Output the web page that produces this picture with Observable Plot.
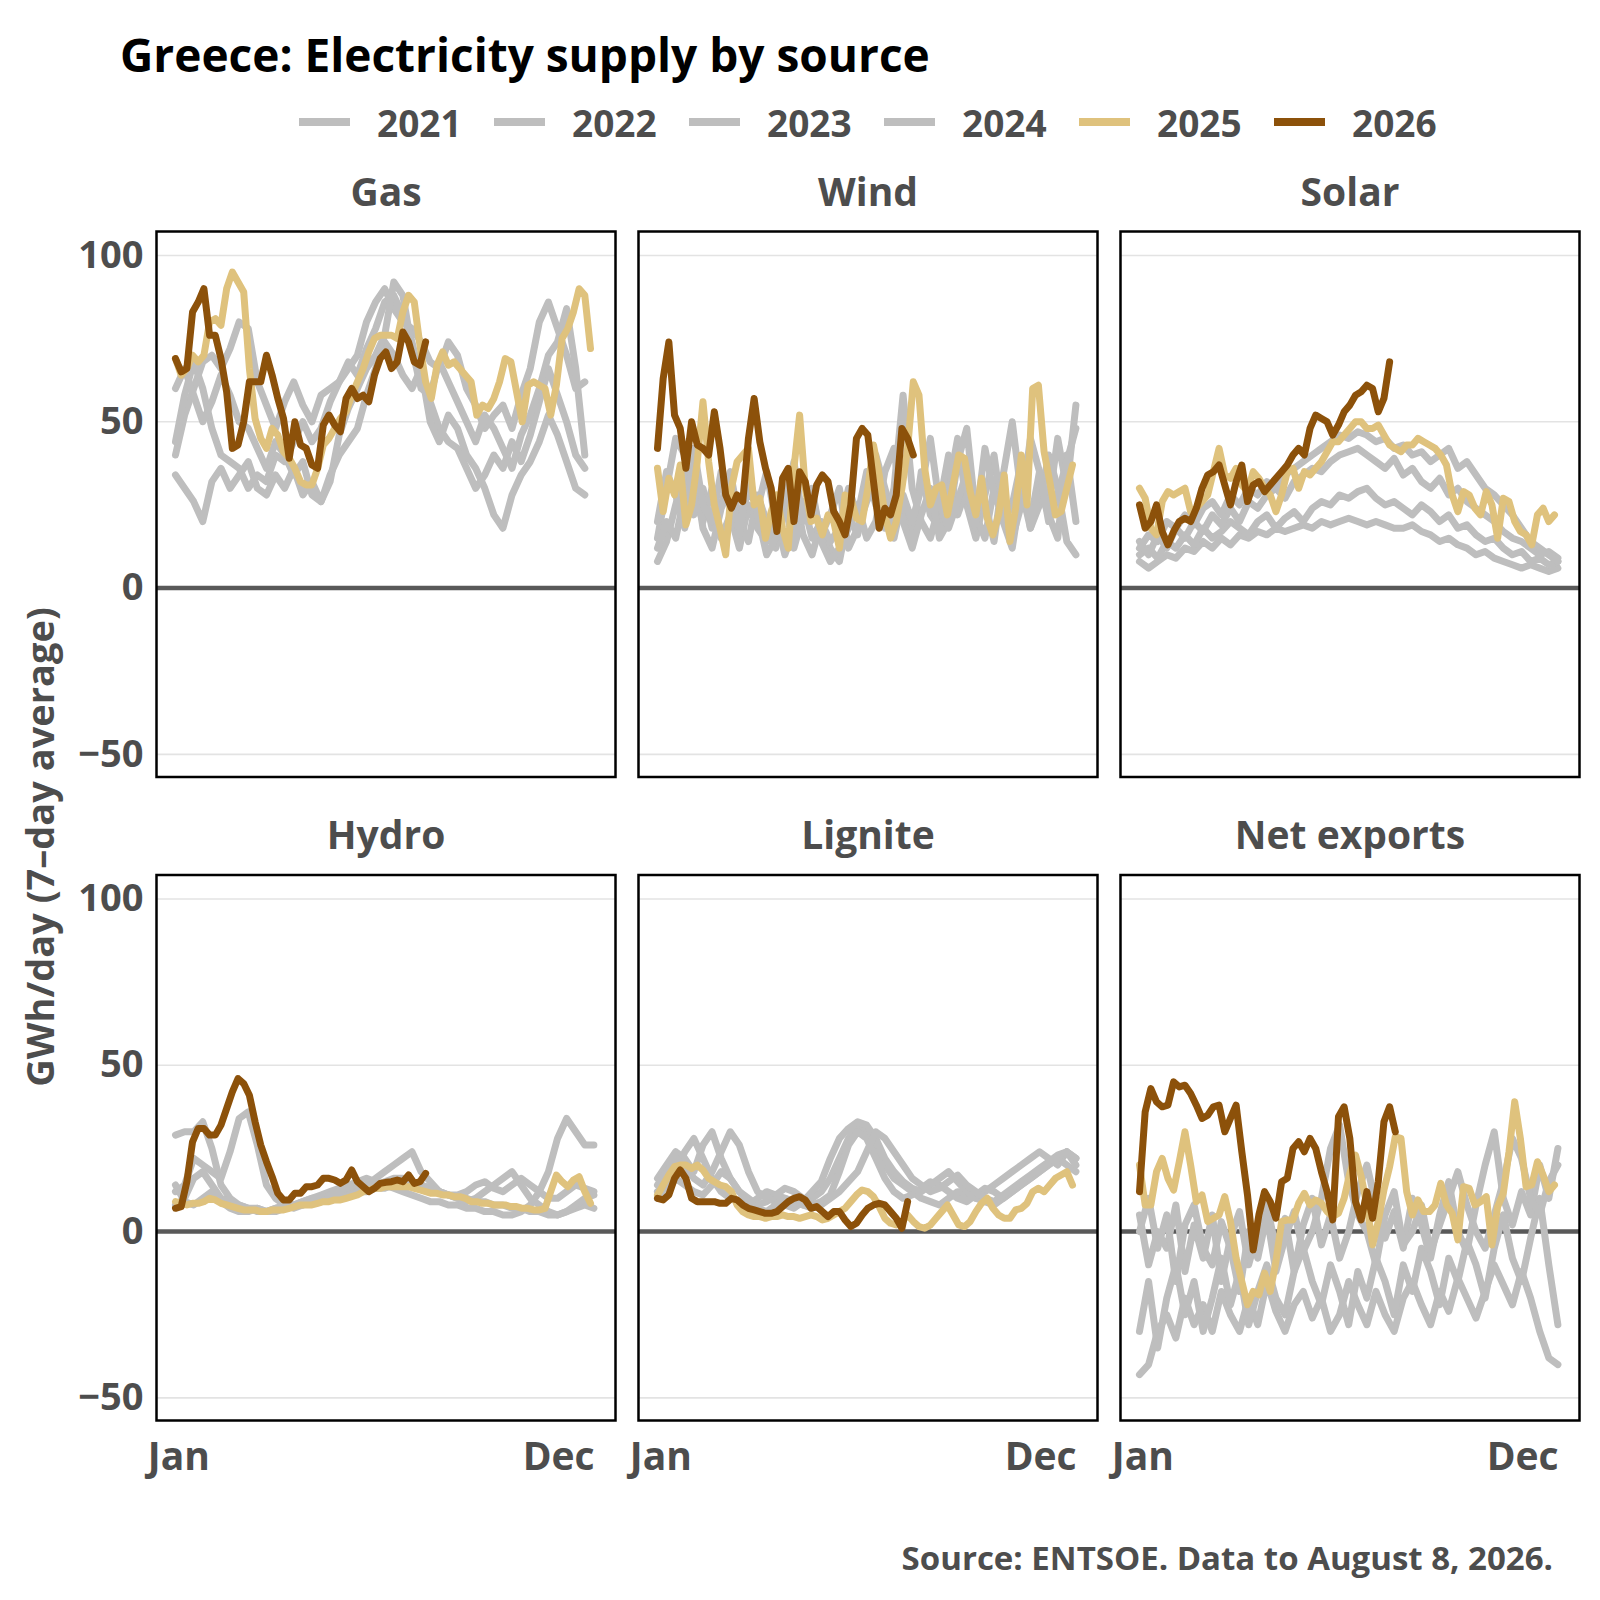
<!DOCTYPE html>
<html>
<head>
<meta charset="utf-8">
<script src="https://cdn.jsdelivr.net/npm/d3@7"></script>
<script src="https://cdn.jsdelivr.net/npm/@observablehq/plot@0.6"></script>
<style>
  html, body { margin: 0; padding: 0; background: #fff; }
  #wrap { position: relative; width: 1600px; height: 1600px; font-family: "Open Sans", "Noto Sans", sans-serif; font-weight: 700; color: #4d4d4d; }
  #title { position: absolute; left: 120px; top: 31px; font-size: 46px; line-height: 1; color: #000; white-space: nowrap; }
  #legend { position: absolute; left: 299px; top: 102px; height: 40px; display: flex; align-items: center; }
  .item { display: flex; align-items: center; width: 195px; }
  .key { width: 51px; height: 8px; margin-right: 27px; }
  .lab { font-size: 37px; line-height: 1; }
  #chart { position: absolute; left: 0; top: 165px; }
  #caption { position: absolute; right: 47px; top: 1541px; font-size: 33px; line-height: 1; white-space: nowrap; }
  #ylabel { position: absolute; left: -261px; top: 827px; width: 600px; height: 40px; line-height: 40px; text-align: center; font-size: 38px; transform: rotate(-90deg); white-space: nowrap; }
</style>
</head>
<body>
<div id="wrap">
  <div id="title">Greece: Electricity supply by source</div>
  <div id="legend"></div>
  <div id="chart"></div>
  <div id="ylabel">GWh/day (7–day average)</div>
  <div id="caption">Source: ENTSOE. Data to August 8, 2026.</div>
</div>
<script>
// ---------- categories ----------
const panels = ["Gas", "Wind", "Solar", "Hydro", "Lignite", "Net exports"];
const years = ["2021", "2022", "2023", "2024", "2025", "2026"];
const yearColors = ["#bebebe", "#bebebe", "#bebebe", "#bebebe", "#dfc27d", "#8c510a"];
const yTicks = [-50, 0, 50, 100];
const xTickDays = [1, 335];
const xTickLabels = ["Jan", "Dec"];
// series start on day -2 (7-day average); grey years sampled every 8 days, 2025/2026 every 5 days
const firstDay = -2;
const greyStep = 8;
const colourStep = 5;

// ---------- Gas ----------
const gas2021 = [40,52,60,68,70,66,72,80,78,62,55,48,56,62,55,50,58,60,62,66,70,80,86,90,84,80,78,74,68,66,74,70,60,55,48,52,55,48,58,66,80,86,78,70,60,62];
const gas2022 = [44,58,68,60,48,40,38,36,30,34,32,40,38,44,50,44,48,56,62,68,64,72,78,86,88,82,74,62,56,48,44,42,36,30,34,40,36,44,38,46,56,66,58,50,40,36];
const gas2023 = [34,30,26,20,32,36,30,34,38,30,28,34,30,36,28,32,26,34,40,44,48,58,66,74,70,64,60,66,50,44,52,48,40,36,30,22,18,28,34,38,44,52,46,38,30,28];
const gas2024 = [60,66,58,50,56,64,58,50,48,42,36,44,40,34,38,28,26,32,46,54,60,66,70,76,92,88,72,60,58,68,62,56,50,44,52,48,42,36,46,52,60,70,74,84,66,40];
const gas2025 = [69,64,66,70,68,70,80,81,79,90,95,92,89,66,51,45,42,48,46,41,39,36,32,31,31,36,43,45,48,51,53,58,62,66,71,75,76,76,76,75,83,88,86,73,62,57,67,71,67,68,66,64,62,52,55,54,57,62,69,68,59,50,61,62,61,60,52,61,75,78,83,90,88,72];
const gas2026 = [69,65,66,83,86,90,76,76,69,59,42,43,50,62,62,62,70,64,57,51,39,50,43,42,37,36,49,52,49,47,57,60,57,58,56,64,69,71,66,68,77,74,68,67,74];

// ---------- Wind ----------
const wind2021 = [8,14,25,35,28,20,30,15,22,12,25,18,14,22,10,18,26,15,20,12,8,22,16,28,40,30,20,25,15,35,22,18,30,45,25,15,28,40,20,12,30,18,25,40,30,14,10];
const wind2022 = [15,30,45,40,22,30,18,25,35,20,14,28,20,12,24,30,16,10,20,14,18,30,22,35,25,18,30,58,30,20,15,25,40,22,30,18,26,14,34,50,28,20,35,25,45,30,55];
const wind2023 = [12,20,15,28,36,18,12,24,30,16,35,22,10,15,26,12,22,30,14,8,12,18,25,15,20,35,42,20,12,22,30,15,20,38,48,22,15,30,20,25,38,18,30,22,15,40,20];
const wind2024 = [20,35,28,18,42,25,20,35,28,18,30,24,35,20,26,38,20,28,16,22,30,12,18,26,32,22,15,28,20,30,45,25,18,26,35,20,42,28,22,15,25,45,35,20,28,38,48];
const wind2025 = [36,23,33,28,37,19,25,38,56,38,25,18,10,30,38,40,42,25,27,15,23,28,18,12,36,52,30,20,21,16,22,20,12,28,27,21,20,30,43,34,22,15,20,30,42,62,58,36,25,30,31,22,31,40,39,29,22,33,21,16,22,34,14,24,40,25,60,61,41,32,22,23,30,37];
const wind2026 = [42,63,74,52,48,36,50,43,42,40,53,42,28,24,28,26,45,57,44,36,30,17,33,36,20,35,32,22,31,34,32,23,20,16,25,45,48,46,32,18,24,22,28,48,45,40];

// ---------- Solar ----------
const solar2021 = [8,6,8,10,9,12,11,14,12,15,13,16,15,17,16,18,17,18,19,18,20,19,20,21,20,19,20,19,18,18,19,17,16,14,15,13,12,10,11,9,8,7,6,7,6,5,6];
const solar2022 = [10,12,9,14,12,16,13,18,15,17,20,18,16,20,22,18,21,23,20,24,26,25,28,27,29,30,27,25,26,24,22,25,23,20,22,18,19,16,14,15,12,10,11,8,9,7,8];
const solar2023 = [14,10,16,12,18,15,20,17,22,19,24,20,26,24,28,30,27,32,34,36,35,38,40,41,42,40,38,36,39,34,36,32,30,33,28,30,26,24,22,20,17,15,14,12,10,11,9];
const solar2024 = [12,16,14,20,18,22,19,24,26,22,28,25,30,28,32,30,34,36,38,40,42,44,46,45,47,46,44,45,42,43,40,41,38,40,42,36,38,34,30,28,25,22,18,14,12,10,8];
const solar2025 = [30,27,18,16,26,29,28,29,30,23,24,26,28,35,42,34,33,36,31,29,35,33,30,28,23,28,35,36,30,35,34,36,38,41,44,44,46,48,50,50,48,48,49,46,43,42,41,43,43,45,44,43,42,40,37,28,23,29,28,24,22,29,25,15,27,26,20,17,16,13,22,24,20,22];
const solar2026 = [25,18,20,25,17,13,17,20,21,20,24,30,34,35,37,31,25,32,37,26,31,32,29,31,33,35,37,40,42,40,48,52,51,50,46,49,53,55,58,59,61,60,53,57,68];

// ---------- Hydro ----------
const hydro2021 = [29,30,30,33,25,14,10,8,7,6,6,7,8,8,9,10,11,12,13,14,15,16,15,14,13,12,11,10,9,9,8,8,7,7,6,6,5,5,6,8,12,18,28,34,30,26,26];
const hydro2022 = [12,14,22,20,18,16,24,34,36,26,14,10,8,7,8,9,10,11,12,12,13,14,16,18,20,22,24,18,15,12,11,10,9,10,12,14,16,18,14,10,8,6,5,6,7,8,7];
const hydro2023 = [8,10,16,18,14,10,9,8,7,7,6,6,7,8,9,10,10,11,12,12,13,14,14,15,16,16,15,14,13,12,11,10,10,9,9,8,8,7,7,6,6,5,5,6,8,10,11];
const hydro2024 = [14,9,8,10,12,9,7,6,6,7,6,7,7,8,8,9,9,10,10,11,12,12,13,13,14,14,15,14,13,12,11,11,12,14,15,13,12,14,16,14,12,10,10,12,14,13,12];
const hydro2025 = [9,8.5,8,8.5,8.5,9,10,9.5,8.5,8,7.5,7,6.5,6.5,6.5,6,6,6.5,6.5,6.5,7,7.5,8,8,8,8.5,9,9,9.5,9.5,10,10.5,11,12,12.5,13,13,13.5,13.5,13.5,13.5,13.5,13,12.5,12,11.5,11.5,11,11,10.5,10.5,10,9,9,8.5,8.5,8,8,8,7.5,7.5,7,7,6.5,6.5,7,12,17,15,13.5,15.5,16.5,12,8.5];
const hydro2026 = [7,7.5,15,27,31,31,29,29,32,37,42,46,44.5,41,33,26,21,16.5,11.5,9.5,9.5,11.5,11.5,13.5,13.5,14,16,16,15.5,14.5,15.5,18.5,15,13.5,12,13,14.5,14.8,15,15.5,15,17,14.5,15,17.5];

// ---------- Lignite ----------
const lignite2021 = [12,14,18,24,28,22,16,12,10,9,8,10,12,11,10,9,8,10,12,16,22,28,32,30,26,20,16,14,12,10,9,8,10,12,11,10,12,14,16,18,20,22,24,22,20,24,22];
const lignite2022 = [16,20,24,22,18,26,30,22,16,12,10,8,9,11,13,12,10,8,9,11,18,26,30,28,22,16,12,10,11,13,15,14,12,10,9,11,13,12,10,12,14,16,18,20,22,20,18];
const lignite2023 = [14,18,22,20,16,14,18,24,30,26,18,12,10,9,8,7,9,12,15,22,28,31,33,32,28,22,18,15,13,12,14,16,18,15,12,10,9,8,10,12,14,16,18,20,22,24,20];
const lignite2024 = [10,12,16,14,12,11,14,18,16,12,9,7,6,8,10,9,8,7,8,10,12,15,18,24,30,28,24,20,16,14,12,13,15,17,14,12,10,9,11,13,15,17,19,21,23,24,22];
const lignite2025 = [11,14,17,19.5,20,20,19,20,18.5,16,15,14,13.5,12,8,6,5,4.5,4.5,4,4.5,4.5,5,4.5,4.5,4,4.5,5,4.5,3.5,4,5,6,7,9,11,12.5,12,10.5,7.5,4,2.5,2,3,5,3,1.5,1,2,4,6,8,5,2,1.5,3,6,8.5,10,7,5,4,4,6.5,7,8.5,12,13,12,14,16,17,18,14];
const lignite2026 = [10,9.5,11,16,18.5,16,10,9,9,9,9,8.5,8.5,10,9.5,8,7,6.5,6,5.5,5.5,6,7.5,9,10,10.5,9.5,7,7.5,6,4.5,6,6,3.5,1.5,2.5,5,7,8,8.5,8,6,4,1,9];

// ---------- Net exports ----------
const netexports2021 = [-43,-40,-30,-25,-32,-20,-28,-22,-30,-18,-25,-30,-20,-28,-15,-24,-30,-22,-18,-26,-20,-30,-25,-15,-22,-28,-18,-25,-30,-20,-15,-22,-28,-18,-24,-14,-20,-26,-18,-10,-16,-22,-12,-20,-30,-38,-40];
const netexports2022 = [-30,-15,-35,-20,-10,-25,-15,-30,-20,-8,-22,-12,-28,-18,-10,-20,-25,-12,-5,-15,-22,-10,-18,-28,-12,-20,-8,-15,-25,-10,-18,-5,-12,-22,-8,-15,-3,-10,-20,-5,5,-8,-15,-2,10,-10,-28];
const netexports2023 = [5,-10,0,-5,8,-12,2,-8,5,-15,-2,6,-10,0,8,-5,4,-12,2,10,-4,5,-8,0,12,20,8,-2,6,-5,10,2,-8,5,15,0,-6,8,20,30,10,2,12,5,20,10,25];
const netexports2024 = [0,10,-5,5,-15,2,8,-5,-10,3,-5,-18,0,-8,5,-12,-2,6,-6,0,10,25,32,15,5,0,-10,5,12,-4,0,8,-6,2,10,18,8,0,-5,5,15,28,22,10,5,15,20];
const netexports2025 = [20,8,8,18,22,16,12.5,21,30,20,9,11,3,4,5,10.5,3,-8,-15,-22,-18,-19,-12.5,-18,-9,3,3.5,3.5,8.5,11.5,8,9.5,8.5,6,4.5,5.5,10,17.5,23,16.5,8,-4,3,12.5,19.5,28.5,28,12,5,9.5,6,6,8,14.5,8,5.5,-2.5,13.5,13,8,9,10.5,-4,7.5,11.5,24,39,28,13.5,14,21,17,12,14];
const netexports2026 = [12,36,43,39,37.5,38,45,43.5,44,41.5,38,34,35,37.5,38,30,34,38,24,11,-5.5,5,12,9,4,15,16,25,27,24,28,25,18,12,3.5,34.5,37.5,28,9,3.5,12,4,15,33,37.5,30];

const series = [
  [gas2021, gas2022, gas2023, gas2024, gas2025, gas2026],
  [wind2021, wind2022, wind2023, wind2024, wind2025, wind2026],
  [solar2021, solar2022, solar2023, solar2024, solar2025, solar2026],
  [hydro2021, hydro2022, hydro2023, hydro2024, hydro2025, hydro2026],
  [lignite2021, lignite2022, lignite2023, lignite2024, lignite2025, lignite2026],
  [netexports2021, netexports2022, netexports2023, netexports2024, netexports2025, netexports2026]
];

// ---------- tidy table ----------
const rows = [];
panels.forEach((p, k) => {
  years.forEach((yr, j) => {
    const step = j < 4 ? greyStep : colourStep;
    series[k][j].forEach((v, i) => {
      rows.push({panel: p, col: k % 3, row: Math.floor(k / 3), year: yr, day: firstDay + i * step, value: v});
    });
  });
});
const panelLabels = panels.map((p, k) => ({name: p, col: k % 3, row: Math.floor(k / 3)}));

// ---------- legend ----------
const legend = document.getElementById("legend");
years.forEach((yr, j) => {
  const it = document.createElement("div");
  it.className = "item";
  it.innerHTML = `<span class="key" style="background:${yearColors[j]}"></span><span class="lab">${yr}</span>`;
  legend.appendChild(it);
});

// ---------- chart ----------
const lineOpts = (yr) => ({
  filter: d => d.year === yr,
  x: "day", y: "value", fx: "col", fy: "row",
  stroke: yearColors[years.indexOf(yr)], strokeWidth: 7, strokeLinejoin: "round", strokeLinecap: "round"
});

const chart = Plot.plot({
  width: 1600,
  height: 1325,
  marginLeft: 156, marginRight: 21, marginTop: 66, marginBottom: 70,
  style: {fontFamily: '"Open Sans", "Noto Sans", sans-serif', color: "#4d4d4d", background: "#fff"},
  fx: {domain: [0, 1, 2], paddingInner: 0.0477, paddingOuter: 0, round: false, axis: null},
  fy: {domain: [0, 1], paddingInner: 0.1523, paddingOuter: 0, round: false, axis: null},
  x: {domain: [-18.7, 385]},
  y: {domain: [-56.8, 107.2]},
  marks: [
    Plot.gridY({ticks: [-50, 50, 100], stroke: "#e3e3e3", strokeOpacity: 1, strokeWidth: 1.6}),
    Plot.ruleY([0], {stroke: "#595959", strokeWidth: 4.5}),
    ...years.map(yr => Plot.lineY(rows, lineOpts(yr))),
    Plot.frame({stroke: "#000", strokeWidth: 2.5}),
    Plot.axisY({ticks: yTicks, tickSize: 0, tickPadding: 13, fontSize: 38, fontWeight: 700, label: null}),
    Plot.axisX({ticks: xTickDays, tickFormat: d => xTickLabels[xTickDays.indexOf(d)], tickSize: 0, tickPadding: 22, fontSize: 39, fontWeight: 700, label: null}),
    Plot.text(panelLabels, {fx: "col", fy: "row", text: "name", frameAnchor: "top", lineAnchor: "middle", dy: -38, fontSize: 39, fontWeight: 700, fill: "#4d4d4d"})
  ]
});
document.getElementById("chart").appendChild(chart);
</script>
</body>
</html>
